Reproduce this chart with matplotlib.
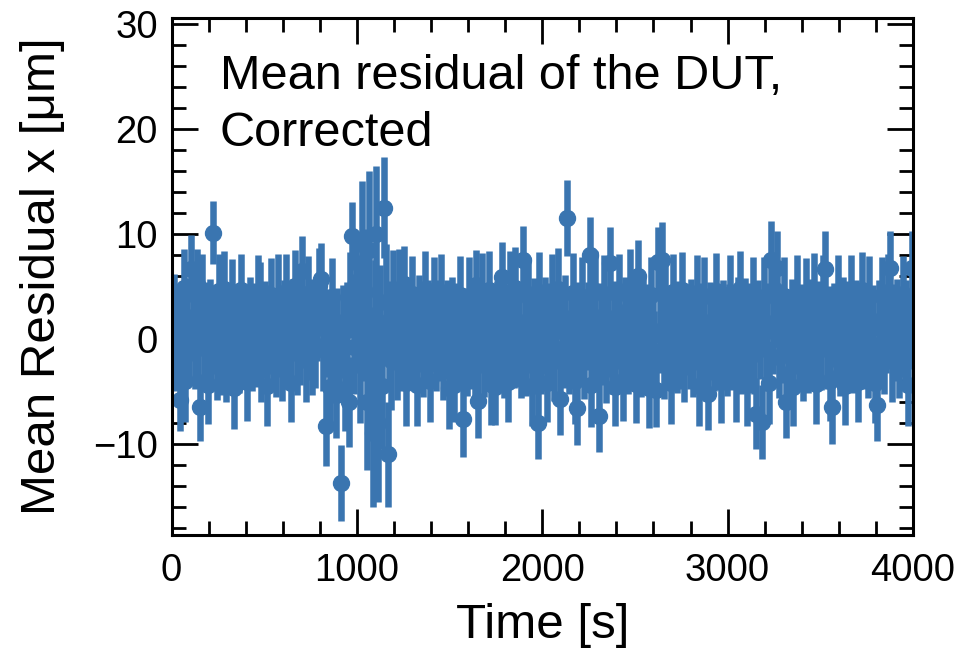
import matplotlib
matplotlib.use("Agg")
import matplotlib.pyplot as plt
from matplotlib.ticker import MultipleLocator
import numpy as np

# time bin centres [s], 10 s bins
time_start = 5.0
time_step = 10.0

# mean residual per bin [um]
residual = [
    0.8, 2.1, -1.4, 1.0, -5.8, 0.3, 4.9, -4.0, 1.5, -0.6, 6.7, 1.9, -1.0, 5.2, 0.4, -6.5, 4.2, -0.9, 1.2, -4.4,
    1.7, -0.4, 10.1, 0.9, -2.0, 4.6, -1.2, 0.5, 4.8, -1.7, 1.1, -0.2, 4.1, -4.7, 0.7, 1.6, -1.1, 4.7, -0.5, 1.4,
    -4.1, 0.6, 2.0, -1.5, 1.3, -0.8, 4.4, 3.9, -1.9, 0.2, 1.8, -4.5, 0.9, 4.2, -0.7, 1.0, -1.6, 4.0, 0.1, -2.1,
    1.5, 4.5, -0.9, 0.4, -4.2, 1.9, 5.0, -1.3, 0.8, -0.1, 6.5, 1.2, -2.0, 4.3, 0.3, -1.4, 2.0, -0.6, 1.7, 5.1,
    5.7, -1.0, 1.4, -8.3, 0.6, -4.6, 4.0, -0.3, -5.3, 1.0, -1.8, -13.7, 0.7, -4.8, 1.6, -6.0, 4.2, 9.8, -0.8, 5.4,
    3.0, -2.5, 9.0, 1.0, 4.5, -6.0, 8.5, -3.0, -9.0, 2.0, 10.0, -8.0, 1.5, -4.5, 12.5, 3.5, -11.0, 0.5, -2.0, 4.0,
    1.2, -1.9, 4.6, 0.2, -1.2, 5.2, -4.2, 1.6, 0.0, 4.3, -0.9, 1.1, -4.4, 2.0, 0.6, -1.5, 4.8, -0.4, 1.8, -4.0,
    0.9, 4.1, -1.1, 1.5, -0.2, 4.5, -1.8, 0.4, 1.9, -4.7, 0.7, 2.1, -4.4, 1.3, -0.6, 4.2, 0.1, -7.6, 1.0, -1.4,
    4.0, -0.7, 1.4, -2.1, 5.1, -5.9, 0.8, 4.4, -1.3, 1.1, -0.5, 4.7, -4.3, 0.3, -4.6, 1.7, -0.8, 2.0, 5.9, -1.6,
    1.3, -4.1, 4.3, 0.0, -1.0, 4.9, -0.4, 1.6, -2.0, 7.5, 0.5, -1.5, 4.1, 0.9, -4.5, 1.8, -0.2, -8.0, 4.5, -1.1,
    0.6, 1.9, -4.2, 1.2, -0.6, 4.2, -1.7, 0.8, 4.8, -5.7, 1.4, -0.9, 2.0, 11.5, -1.3, 0.7, 4.4, -4.0, -6.6, 1.5,
    -0.3, 4.0, -1.6, 0.9, 1.7, 8.0, -4.4, 0.4, 4.6, -1.0, -7.3, 1.3, -0.5, 4.3, -2.0, 0.2, 7.2, -1.2, 1.6, -4.6,
    1.0, 4.4, -0.8, -4.0, 1.9, 0.3, -1.4, 5.0, -0.1, 1.2, -4.3, 6.0, 0.7, -1.7, 2.1, -0.6, 1.5, -4.7, 4.2, 0.4,
    -1.1, -4.9, 7.3, 0.8, 7.5, -1.8, 4.1, -0.3, 1.1, -4.2, 4.5, 0.1, -1.3, 1.8, -0.7, 4.7, -2.1, 0.6, 1.4, -0.9,
    2.0, -1.5, 0.9, 4.4, -4.5, 1.2, -0.4, 4.1, -1.9, -5.2, 1.6, 0.2, -1.1, 4.6, -0.6, 1.0, -4.1, 1.9, 0.5, -1.6,
    1.3, 4.3, -0.9, 0.6, -4.0, 1.8, 4.8, -1.4, 0.0, 2.1, -4.4, 1.1, -0.5, 4.2, -1.2, -7.1, 1.7, 0.3, -7.9, 4.0,
    -1.0, 1.5, -4.2, 7.5, 0.8, 4.7, 6.8, -1.7, 1.2, -0.2, 4.1, -6.0, 0.5, -1.5, 1.9, -4.6, 0.7, 4.4, -0.8, 1.4,
    -2.0, 0.9, 4.0, -1.3, 1.6, -0.4, 4.6, -4.3, 0.3, 1.8, -1.0, 4.2, 6.7, -0.7, 1.1, -4.0, -6.5, 1.3, 0.1, 4.3,
    -1.6, 0.8, 2.0, -4.5, 1.4, -0.3, 4.4, -1.1, 0.6, 1.9, -4.1, 0.2, 4.7, -0.9, 1.3, -1.8, 4.2, -0.5, 1.0, -4.2,
    -6.3, 1.7, -0.6, 4.1, -1.4, 0.9, 4.5, 6.8, -2.1, 1.2, -0.2, 2.0, -1.7, 0.5, 4.3, -1.0, 1.6, -4.4, 0.8, 6.8,
]

# uncertainty per bin [um]
residual_err = [
    3.8, 4.1, 3.6, 4.0, 3.0, 4.2, 3.7, 3.9, 4.3, 3.5, 3.2, 4.0, 3.8, 3.4, 4.1, 3.2, 3.9, 3.6, 4.2, 3.7,
    4.0, 3.6, 3.0, 4.2, 3.8, 3.5, 4.1, 3.9, 3.6, 4.3, 3.7, 4.0, 3.5, 3.9, 4.2, 3.6, 4.0, 3.4, 4.1, 3.8,
    3.7, 4.2, 3.9, 3.5, 4.0, 3.8, 3.6, 3.4, 4.1, 3.9, 3.7, 3.8, 4.2, 3.5, 4.0, 3.6, 3.9, 4.1, 3.7, 3.8,
    4.1, 3.6, 3.9, 4.2, 3.7, 3.8, 3.5, 4.0, 3.9, 4.3, 3.3, 3.8, 4.0, 3.6, 4.2, 3.9, 3.7, 4.1, 3.8, 3.6,
    3.4, 4.0, 3.9, 3.8, 4.2, 4.0, 3.7, 4.3, 4.1, 3.9, 4.2, 3.6, 4.4, 4.0, 3.8, 4.3, 4.1, 3.2, 4.4, 3.9,
    5.0, 5.5, 6.0, 5.0, 6.0, 6.5, 7.5, 6.0, 7.0, 5.5, 6.5, 7.5, 5.5, 6.0, 4.8, 5.5, 5.0, 5.0, 4.8, 4.5,
    4.2, 3.9, 4.0, 4.3, 3.8, 3.7, 4.1, 3.9, 4.2, 3.6, 4.0, 3.8, 3.9, 4.1, 3.7, 4.0, 3.6, 4.2, 3.8, 3.9,
    4.0, 3.7, 3.9, 4.1, 3.8, 3.6, 4.0, 4.2, 3.7, 3.9, 4.1, 3.8, 3.5, 4.0, 3.9, 3.7, 4.2, 3.6, 3.9, 4.0,
    3.8, 4.1, 3.9, 3.7, 3.4, 3.5, 4.0, 3.8, 4.2, 3.9, 4.1, 3.7, 3.9, 4.0, 3.6, 3.8, 4.2, 3.9, 3.3, 4.0,
    3.9, 3.8, 4.1, 4.0, 3.7, 3.9, 4.2, 3.8, 3.6, 3.3, 4.0, 3.9, 3.7, 4.1, 3.8, 4.0, 3.9, 3.4, 3.8, 4.1,
    3.9, 4.0, 3.7, 4.1, 3.8, 3.9, 4.2, 3.7, 3.9, 3.4, 4.0, 3.8, 4.1, 3.6, 3.9, 4.0, 3.8, 4.1, 3.5, 3.9,
    4.0, 3.8, 4.1, 3.9, 3.7, 3.6, 4.0, 4.2, 3.8, 3.9, 3.5, 4.0, 3.9, 3.7, 4.1, 3.8, 3.5, 4.0, 3.9, 3.7,
    3.9, 3.7, 4.1, 3.8, 4.0, 3.9, 3.8, 3.6, 4.2, 3.9, 3.7, 3.4, 4.0, 3.8, 3.9, 4.1, 3.7, 3.8, 3.6, 4.0,
    3.8, 3.5, 3.4, 4.0, 3.6, 3.9, 3.7, 4.1, 3.8, 3.9, 3.6, 4.0, 3.8, 3.7, 4.1, 3.6, 3.9, 4.0, 3.8, 3.9,
    3.7, 4.0, 3.9, 3.6, 3.8, 4.1, 3.9, 3.7, 4.0, 3.5, 3.8, 4.1, 3.9, 3.6, 4.0, 3.8, 3.9, 3.7, 4.1, 3.8,
    3.9, 3.7, 4.0, 3.8, 3.9, 4.1, 3.6, 3.8, 4.0, 3.7, 3.9, 4.2, 3.8, 3.6, 4.0, 3.4, 3.9, 4.1, 3.5, 3.8,
    4.0, 3.8, 3.9, 3.7, 4.1, 3.6, 3.5, 3.9, 3.8, 4.0, 3.7, 3.4, 4.1, 3.9, 3.8, 3.7, 4.0, 3.6, 3.9, 3.8,
    3.9, 4.0, 3.7, 3.8, 4.1, 3.9, 3.6, 3.8, 4.0, 3.7, 3.9, 3.8, 3.6, 4.1, 3.9, 3.8, 3.5, 4.0, 3.9, 3.7,
    3.8, 4.0, 3.9, 3.7, 4.1, 3.8, 3.6, 4.0, 3.9, 3.7, 3.8, 4.1, 3.6, 3.9, 4.0, 3.8, 3.7, 3.9, 4.1, 3.8,
    3.4, 3.9, 4.0, 3.7, 3.8, 4.1, 3.6, 3.5, 3.9, 4.0, 3.8, 3.7, 3.9, 4.1, 3.6, 3.8, 4.0, 3.9, 3.7, 3.5,
]

time = time_start + time_step * np.arange(len(residual))

plt.rcParams['font.family'] = ['Liberation Sans', 'DejaVu Sans']

fig, ax = plt.subplots(figsize=(9.64, 6.56), dpi=100)
fig.subplots_adjust(left=0.178, right=0.947, top=0.973, bottom=0.184)

ax.errorbar(time, residual, yerr=residual_err, fmt='o', color='#3a75b0',
            markersize=11.5, elinewidth=4.7, capsize=0)

ax.set_xlim(0, 4000)
ax.set_ylim(-18.7, 30.6)
ax.xaxis.set_major_locator(MultipleLocator(1000))
ax.xaxis.set_minor_locator(MultipleLocator(200))
ax.yaxis.set_major_locator(MultipleLocator(10))
ax.yaxis.set_minor_locator(MultipleLocator(2))

ax.tick_params(which='both', direction='in', top=True, right=True,
               labelsize=27.5, width=2.0)
ax.tick_params(axis='x', which='both', pad=13)
ax.tick_params(axis='y', which='both', pad=10)
ax.tick_params(which='major', length=19)
ax.tick_params(which='minor', length=10)
for s in ax.spines.values():
    s.set_linewidth(2.2)

ax.set_xlabel('Time [s]', fontsize=35.5, labelpad=10)
ax.set_ylabel('Mean Residual x [μm]', fontsize=35.5, labelpad=20)

ax.text(0.065, 0.93, 'Mean residual of the DUT,\nCorrected', fontsize=35,
        transform=ax.transAxes, ha='left', va='top', linespacing=1.35)

fig.savefig('out.png', dpi=100)
